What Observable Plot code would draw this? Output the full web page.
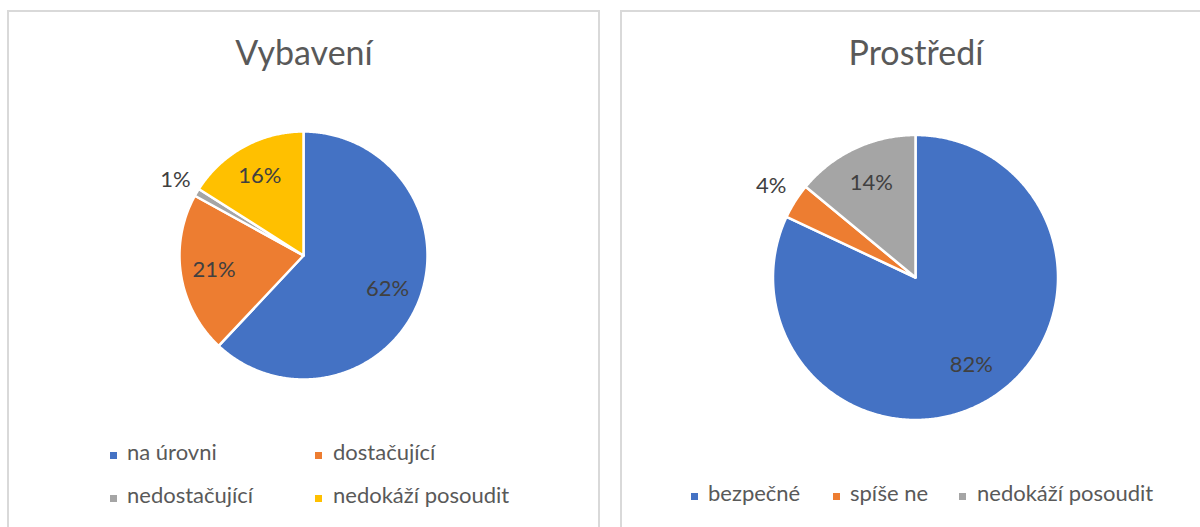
<!DOCTYPE html>
<html>
<head>
<meta charset="utf-8">
<script src="https://cdn.jsdelivr.net/npm/d3@7"></script>
<script src="https://cdn.jsdelivr.net/npm/@observablehq/plot@0.6"></script>
<style>
  html, body { margin: 0; padding: 0; background: #fff; }
  body { position: relative; width: 1200px; height: 527px; overflow: hidden; font-family: Lato, "Noto Sans", sans-serif; }
  .panel { position: absolute; border: 2px solid #d9d9d9; box-sizing: border-box; background: #fff; }
  .title { position: absolute; text-align: center; color: #595959; font-size: 34px; line-height: 34px; font-weight: 400; white-space: nowrap; }
  .sq { position: absolute; width: 7px; height: 7px; }
  .lg { position: absolute; color: #595959; font-size: 22px; line-height: 22px; white-space: nowrap; }
  .pie { position: absolute; }
</style>
</head>
<body>
<div class="panel" style="left:7px;top:10px;width:593px;height:600px;"></div>
<div class="panel" style="left:620px;top:10px;width:593px;height:600px;"></div>
<div id="root"></div>
<script>
// ---- data ----
const vybaveniTitle = "Vybavení";
const vybaveniCategories = ["na úrovni", "dostačující", "nedostačující", "nedokáží posoudit"];
const vybaveniValues = [62, 21, 1, 16];

const prostrediTitle = "Prostředí";
const prostrediCategories = ["bezpečné", "spíše ne", "nedokáží posoudit"];
const prostrediValues = [82, 4, 14];

// ---- palette ----
const vybaveniColors = ["#4472C4", "#ED7D31", "#A5A5A5", "#FFC000"];
const prostrediColors = ["#4472C4", "#ED7D31", "#A5A5A5"];

const root = document.getElementById("root");

function piePlot(cats, vals, colors, R, size) {
  const total = d3.sum(vals);
  const pts = [];
  const labels = [];
  let cum = 0;
  vals.forEach((v, i) => {
    const a0 = cum / total * 2 * Math.PI;
    cum += v;
    const a1 = cum / total * 2 * Math.PI;
    const n = Math.max(2, Math.ceil((a1 - a0) / (Math.PI / 360)));
    pts.push({cat: cats[i], x: 0, y: 0});
    for (let k = 0; k <= n; k++) {
      const t = a0 + (a1 - a0) * k / n;
      pts.push({cat: cats[i], x: R * Math.sin(t), y: R * Math.cos(t)});
    }
    pts.push({cat: cats[i], x: 0, y: 0});
    const m = (a0 + a1) / 2;
    const r = v < 5 ? 1.2 * R : 0.73 * R;
    labels.push({x: r * Math.sin(m), y: r * Math.cos(m), text: v + "%"});
  });
  return Plot.plot({
    width: size, height: size, margin: 0,
    x: {domain: [-size / 2, size / 2], axis: null},
    y: {domain: [-size / 2, size / 2], axis: null},
    color: {domain: cats, range: colors},
    style: {overflow: "visible", background: "transparent"},
    marks: [
      Plot.line(pts, {x: "x", y: "y", z: "cat", fill: "cat", stroke: "white", strokeWidth: 2.5, strokeLinejoin: "round", curve: "linear"}),
      Plot.text(labels, {x: "x", y: "y", text: "text", fill: "#404040", fontSize: 22, fontFamily: "Lato, 'Noto Sans', sans-serif"})
    ]
  });
}

function place(el, left, top) {
  const w = document.createElement("div");
  w.className = "pie";
  w.style.left = left + "px";
  w.style.top = top + "px";
  w.appendChild(el);
  root.appendChild(w);
}

function addTitle(text, cx, top) {
  const d = document.createElement("div");
  d.className = "title";
  d.textContent = text;
  d.style.left = (cx - 200) + "px";
  d.style.width = "400px";
  d.style.top = top + "px";
  root.appendChild(d);
}

function addLegend(cats, colors, positions) {
  cats.forEach((c, i) => {
    const [sx, sy, tx] = positions[i];
    const s = document.createElement("div");
    s.className = "sq";
    s.style.left = sx + "px";
    s.style.top = sy + "px";
    s.style.background = colors[i];
    root.appendChild(s);
    const t = document.createElement("div");
    t.className = "lg";
    t.textContent = c;
    t.style.left = tx + "px";
    t.style.top = (sy - 11) + "px";
    root.appendChild(t);
  });
}

// Left chart
addTitle(vybaveniTitle, 304, 35);
place(piePlot(vybaveniCategories, vybaveniValues, vybaveniColors, 124, 300), 153, 105);
addLegend(vybaveniCategories, vybaveniColors, [[110, 452, 127], [315, 452, 333], [110, 495, 127], [315, 495, 333]]);

// Right chart
addTitle(prostrediTitle, 916, 35);
place(piePlot(prostrediCategories, prostrediValues, prostrediColors, 142.5, 340), 745, 107);
addLegend(prostrediCategories, prostrediColors, [[691, 493, 708], [833, 493, 850], [959, 493, 977]]);
</script>
</body>
</html>
